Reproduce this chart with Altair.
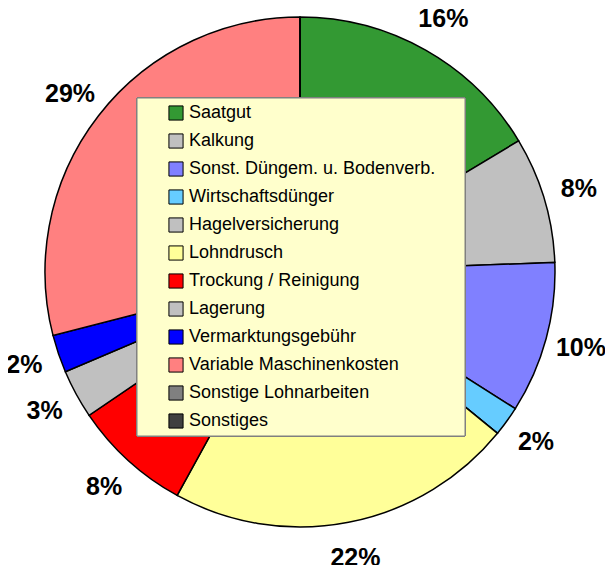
import altair as alt
import pandas as pd

categories = ["Saatgut", "Kalkung", "Sonst. Düngem. u. Bodenverb.", "Wirtschaftsdünger",
              "Hagelversicherung", "Lohndrusch", "Trockung / Reinigung", "Lagerung",
              "Vermarktungsgebühr", "Variable Maschinenkosten", "Sonstige Lohnarbeiten", "Sonstiges"]
values = [16.4, 8.0, 9.6, 1.9, 0.0, 22.1, 7.5, 3.1, 2.4, 29.0, 0.0, 0.0]
labels = ["16%", "8%", "10%", "2%", "", "22%", "8%", "3%", "2%", "29%", "", ""]
colors = ["#339933", "#C0C0C0", "#8080FF", "#66CCFF", "#C0C0C0", "#FFFF99", "#FF0000",
          "#C0C0C0", "#0000FF", "#FF8080", "#808080", "#404040"]

df = pd.DataFrame({"cat": categories, "value": values, "label": labels,
                   "idx": list(range(len(categories)))})

CX, CY, R = 292, 264, 255

color_scale = alt.Scale(domain=categories, range=colors)

base = alt.Chart(df).encode(
    theta=alt.Theta("value:Q", stack=True),
    order=alt.Order("idx:Q", sort="ascending"),
)

pie = base.mark_arc(radius=R, stroke="black", strokeWidth=1.5).encode(
    x=alt.value(CX), y=alt.value(CY),
    color=alt.Color("cat:N", scale=color_scale, sort=categories,
                    legend=alt.Legend(title=None, orient="none", legendX=159, legendY=96,
                                      symbolType="square", symbolSize=200,
                                      symbolStrokeColor="black", symbolStrokeWidth=1,
                                      symbolOpacity=1, labelFontSize=18,
                                      labelFont="Liberation Sans", labelColor="#000000",
                                      labelOffset=4, rowPadding=8, labelLimit=400,
                                      padding=0)),
)

box = alt.Chart(df).mark_rect(fill="#FFFFCC", stroke="#808080", strokeWidth=1).encode(
    x=alt.value(129), x2=alt.value(457), y=alt.value(90), y2=alt.value(428)
)

text = base.mark_text(radius=291, font="Liberation Sans", fontWeight="bold", fontSize=25,
                      align="center", baseline="middle", color="black").encode(
    x=alt.value(CX), y=alt.value(CY),
    text="label:N",
)

chart = alt.layer(pie, box, text).properties(
    width=597, height=557, autosize="none", padding=0
).configure_view(stroke=None)

chart.save("out.html", embed_options={"renderer": "svg", "actions": False})
